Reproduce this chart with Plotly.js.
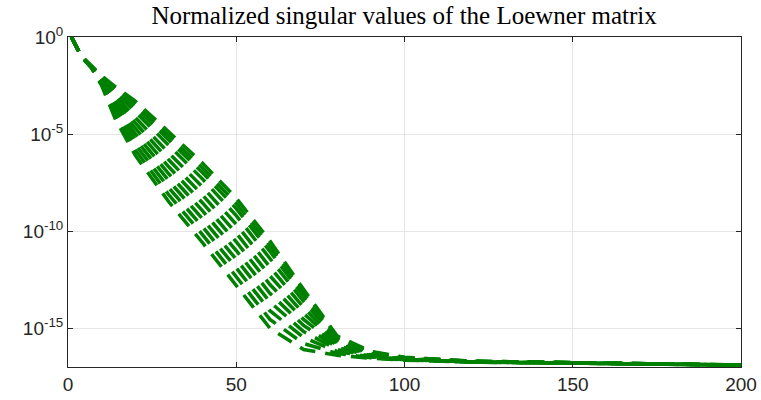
<!DOCTYPE html>
<html>
<head>
<meta charset="utf-8">
<script src="https://cdn.plot.ly/plotly-3.0.1.min.js"></script>
<style>
  html, body { margin: 0; padding: 0; background: #ffffff; }
  #chart { width: 761px; height: 400px; }
</style>
</head>
<body>
<div id="chart"></div>
<script>
// Index positions (singular value number)
const svIndex = [1, 2, 4, 7, 10, 14, 20, 30, 40, 50, 60, 70, 80, 90, 100, 120, 200];

// log10 of normalized singular values, one array per overlaid curve
const logSv01 = [0, -0.35, -1.00, -1.60, -2.50, -4.20, -6.10, -8.50, -10.60, -12.80, -15.00, -16.10, -16.40, -16.55, -16.65, -16.75, -16.90];
const logSv02 = [0, -0.35, -1.00, -1.59, -2.45, -4.04, -5.82, -8.14, -10.19, -12.35, -14.55, -15.79, -16.30, -16.52, -16.64, -16.75, -16.90];
const logSv03 = [0, -0.35, -1.00, -1.58, -2.40, -3.87, -5.54, -7.78, -9.78, -11.90, -14.10, -15.48, -16.20, -16.48, -16.62, -16.74, -16.90];
const logSv04 = [0, -0.35, -1.00, -1.57, -2.35, -3.71, -5.26, -7.42, -9.37, -11.45, -13.65, -15.17, -16.10, -16.45, -16.61, -16.74, -16.90];
const logSv05 = [0, -0.35, -1.00, -1.56, -2.30, -3.54, -4.98, -7.06, -8.96, -11.00, -13.20, -14.86, -16.00, -16.41, -16.59, -16.73, -16.90];
const logSv06 = [0, -0.35, -1.00, -1.55, -2.25, -3.38, -4.70, -6.70, -8.55, -10.55, -12.75, -14.55, -15.90, -16.38, -16.58, -16.73, -16.90];
const logSv07 = [0, -0.35, -1.00, -1.54, -2.20, -3.21, -4.42, -6.34, -8.14, -10.10, -12.30, -14.24, -15.80, -16.34, -16.56, -16.72, -16.90];
const logSv08 = [0, -0.35, -1.00, -1.53, -2.15, -3.05, -4.14, -5.98, -7.73, -9.65, -11.85, -13.93, -15.70, -16.31, -16.55, -16.72, -16.90];
const logSv09 = [0, -0.35, -1.00, -1.52, -2.10, -2.88, -3.86, -5.62, -7.32, -9.20, -11.40, -13.62, -15.60, -16.27, -16.53, -16.71, -16.90];
const logSv10 = [0, -0.35, -1.00, -1.51, -2.06, -2.75, -3.64, -5.33, -6.99, -8.84, -11.04, -13.37, -15.52, -16.24, -16.52, -16.71, -16.90];
const logSv11 = [0, -0.35, -1.00, -1.51, -2.03, -2.65, -3.47, -5.12, -6.75, -8.57, -10.77, -13.19, -15.46, -16.22, -16.51, -16.70, -16.90];
const logSv12 = [0, -0.35, -1.00, -1.50, -2.00, -2.55, -3.30, -4.90, -6.50, -8.30, -10.50, -13.00, -15.40, -16.20, -16.50, -16.70, -16.90];

const curves = [logSv01, logSv02, logSv03, logSv04, logSv05, logSv06,
                logSv07, logSv08, logSv09, logSv10, logSv11, logSv12];

// Axis ticks
const xTickVals = [0, 50, 100, 150, 200];
const xTickText = ['0', '50', '100', '150', '200'];
const yTickVals = [1e-15, 1e-10, 1e-5, 1];
const yTickText = ['10<sup>-15</sup>', '10<sup>-10</sup>', '10<sup>-5</sup>', '10<sup>0</sup>'];

const green = '#008000';
const traces = curves.map(function (c) {
  return {
    x: svIndex,
    y: c.map(function (d) { return Math.pow(10, d); }),
    type: 'scatter',
    mode: 'lines',
    line: { color: green, width: 3.5, dash: '16px,10px' },
    hoverinfo: 'skip',
    showlegend: false
  };
});

const axisCommon = {
  showline: true,
  linecolor: '#262626',
  linewidth: 1,
  mirror: 'ticks',
  ticks: 'inside',
  ticklen: 5,
  tickwidth: 1,
  tickcolor: '#262626',
  showgrid: true,
  gridcolor: '#e6e6e6',
  gridwidth: 1,
  zeroline: false,
  tickfont: { family: 'Liberation Sans, Arial, sans-serif', size: 19, color: '#262626' }
};

const layout = {
  width: 761,
  height: 400,
  margin: { l: 68, r: 20, t: 37, b: 33 },
  paper_bgcolor: '#ffffff',
  plot_bgcolor: '#ffffff',
  title: {
    text: 'Normalized singular values of the Loewner matrix',
    font: { family: 'Liberation Serif, Times New Roman, serif', size: 25, color: '#000000' },
    x: 0.531,
    xanchor: 'center',
    y: 0.963,
    yanchor: 'middle'
  },
  xaxis: Object.assign({}, axisCommon, {
    range: [0, 200],
    tickmode: 'array',
    tickvals: xTickVals,
    ticktext: xTickText
  }),
  yaxis: Object.assign({}, axisCommon, {
    type: 'log',
    range: [-17, 0],
    tickmode: 'array',
    tickvals: yTickVals,
    ticktext: yTickText
  }),
  showlegend: false
};

Plotly.newPlot('chart', traces, layout, { displayModeBar: false, staticPlot: true });
</script>
</body>
</html>
